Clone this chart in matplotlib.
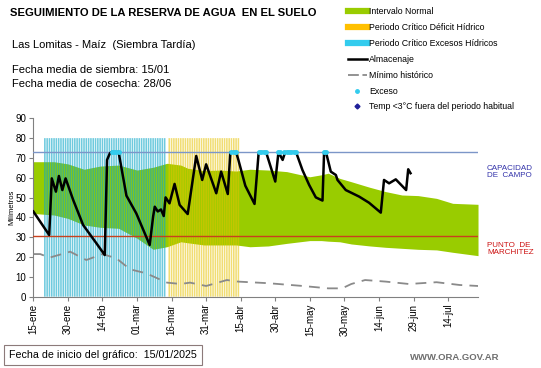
import numpy as np
import matplotlib.pyplot as plt
from matplotlib.lines import Line2D

plt.rcParams['font.family'] = ['Liberation Sans', 'DejaVu Sans']

# Days counted from 15/01/2025
tick_days = [0, 15, 30, 45, 60, 75, 90, 105, 120, 135, 150, 165, 180]
tick_labels = ["15-ene", "30-ene", "14-feb", "01-mar", "16-mar", "31-mar", "15-abr",
               "30-abr", "15-may", "30-may", "14-jun", "29-jun", "14-jul"]

# Critical periods (one bar per day)
excess_period_days = list(range(5, 58))
deficit_period_days = list(range(59, 90))

# Normal interval (green band)
band_days = [0, 9, 15, 22, 29, 37, 45, 52, 58, 64, 67, 74, 81, 88, 94, 102, 110,
             120, 125, 128, 133, 138, 146, 153, 160, 167, 175, 182, 193]
band_upper = [68.1, 68.1, 67.0, 64.3, 65.9, 66.4, 63.9, 65.3, 67.3, 66.4, 64.8, 63.6,
              63.9, 63.4, 64.3, 63.9, 63.1, 60.5, 61.5, 62.3, 59.7, 58.0, 55.2, 53.0,
              51.3, 51.0, 49.6, 47.1, 46.6]
band_lower = [42.0, 41.2, 39.5, 36.2, 35.0, 34.5, 29.5, 23.9, 25.2, 27.7, 27.2, 26.1,
              26.1, 26.1, 25.2, 25.6, 26.9, 28.3, 28.3, 28.0, 27.7, 26.6, 25.6, 24.9,
              24.4, 23.9, 23.6, 22.4, 20.7]

# Minimo historico
min_days = [0, 3, 7, 16, 23, 30, 36, 42, 49, 58, 64, 68, 75, 84, 89, 102, 117, 128,
            134, 138, 144, 153, 163, 175, 185, 193]
min_vals = [21.5, 21.5, 19.7, 22.7, 18.5, 21.5, 19.4, 13.8, 11.8, 7.1, 6.4, 7.1, 5.4,
            8.4, 7.6, 6.8, 5.4, 4.2, 4.2, 6.4, 8.4, 7.6, 6.4, 7.3, 5.9, 5.4]

# Almacenaje
alm_days = [0, 6.9, 8, 9.8, 11.1, 12.6, 14, 17.3, 21.6, 27.4, 31, 32, 33.2, 34, 37,
            40.4, 44.7, 50.5, 52, 52.7, 54, 55.4, 56.6, 57.4, 59.1, 61.3, 63.5, 67,
            70.7, 73.3, 75, 79.4, 81.5, 84.4, 85.5, 86, 88, 89, 92, 96, 97.8, 98, 101,
            105, 106.4, 108.2, 109.3, 114, 116.8, 119.7, 122.6, 125.5, 126.2, 127, 129.1,
            131.3, 132, 135.6, 141.4, 145.7, 150.8, 152.2, 154.4, 157.3, 161.8,
            162.7, 163.7]
alm_vals = [43, 31.1, 59.7, 53, 60.9, 53.8, 59.7, 48.8, 36.2, 26.9, 21, 69, 72.3, 73,
            73, 51, 42, 26.1, 40.5, 45.4, 43, 44, 40.7, 50.1, 47.1, 56.9, 46.3, 41.7,
            71, 58.9, 66.8, 52.2, 63.1, 51.8, 72.8, 73, 73, 69, 56, 46.8, 72.8, 73, 73,
            58.1, 73, 69, 73, 73, 63.9, 56.4, 50.1, 48.5, 73, 73, 63.1, 61.4, 58.9, 53.8,
            50.5, 47.4, 42.4, 58.9, 57.2, 59.2, 53.8, 64.3, 62.3]

# Exceso points
exc_days = [34, 35, 36, 37, 86, 87, 88, 98, 99, 100, 101, 106, 107, 109, 110, 111,
            112, 113, 114, 126, 127]
exc_vals = [73] * len(exc_days)

capacidad = 73.0
marchitez = 30.5

fig = plt.figure(figsize=(5.41, 3.68), dpi=100)
ax = fig.add_axes([0.0616, 0.1938, 0.822, 0.4847])

ax.fill_between(band_days, band_lower, band_upper, color="#99CC00", lw=0, zorder=1)
ax.bar(excess_period_days, [80] * len(excess_period_days), width=0.68,
       color="#0FA8C8", alpha=0.6, lw=0, zorder=2, snap=False)
ax.bar(deficit_period_days, [80] * len(deficit_period_days), width=0.68,
       color="#E6C200", alpha=0.55, lw=0, zorder=2, snap=False)
ax.axhline(capacidad, color="#7C96C8", lw=1.0, zorder=3)
ax.axhline(marchitez, color="#C8411E", lw=1.0, zorder=3)
ax.plot(min_days, min_vals, color="#8A8A8A", lw=1.3, dashes=(6, 4), zorder=4)
ax.plot(alm_days, alm_vals, color="black", lw=1.8, zorder=5)
ax.plot(exc_days, exc_vals, ls="none", marker="o", ms=2.5, color="#33CCEE", zorder=6)

ax.set_xlim(0, 193)
ax.set_ylim(0, 90)
ax.set_yticks(range(0, 91, 10))
ax.set_xticks(tick_days)
ax.set_xticklabels(tick_labels, rotation=90)
ax.tick_params(axis="both", labelsize=7, length=3, color="#808080", width=0.8, pad=2)
for s in ["top", "right"]:
    ax.spines[s].set_visible(False)
for s in ["left", "bottom"]:
    ax.spines[s].set_color("#808080")
ax.set_ylabel("Milímetros", fontsize=5.5)
ax.yaxis.set_label_coords(-0.041, 0.5)

# Header texts
fig.text(10 / 541, 1 - 13 / 368, "SEGUIMIENTO DE LA RESERVA DE AGUA  EN EL SUELO",
         fontsize=8.1, fontweight="bold", va="center")
fig.text(12 / 541, 1 - 45 / 368, "Las Lomitas - Maíz  (Siembra Tardía)",
         fontsize=8, va="center")
fig.text(12 / 541, 1 - 70 / 368, "Fecha media de siembra: 15/01", fontsize=8, va="center")
fig.text(12 / 541, 1 - 84 / 368, "Fecha media de cosecha: 28/06", fontsize=8, va="center")

# Legend
handles = [
    Line2D([], [], color="#99CC00", lw=4.5),
    Line2D([], [], color="#FFC000", lw=4.5),
    Line2D([], [], color="#33CCEE", lw=4.5),
    Line2D([], [], color="black", lw=1.8),
    Line2D([], [], color="#8A8A8A", lw=1.3, dashes=(6, 2)),
    Line2D([], [], ls="none", marker="o", ms=2.5, color="#33CCEE"),
    Line2D([], [], ls="none", marker="D", ms=2.5, color="#1F1F99"),
]
labels = ["Intervalo Normal", "Periodo Crítico Déficit Hídrico",
          "Periodo Crítico Excesos Hídricos", "Almacenaje", "Mínimo histórico",
          "Exceso", "Temp <3°C fuera del periodo habitual"]
fig.legend(handles, labels, loc="upper left", bbox_to_anchor=(344 / 541, 1 - 4 / 368),
           frameon=False, fontsize=6.3, handlelength=2.2, handletextpad=0.3,
           labelspacing=0.78, borderaxespad=0)

# Right labels
fig.text(487 / 541, 1 - 172 / 368, "CAPACIDAD\nDE  CAMPO", fontsize=5.8,
         color="#3333AA", va="center", linespacing=1.1)
fig.text(487 / 541, 1 - 249 / 368, "PUNTO  DE\nMARCHITEZ", fontsize=5.8,
         color="#CC1111", va="center", linespacing=1.1)

# Footer
fig.text(9 / 541, 1 - 355 / 368, "Fecha de inicio del gráfico:  15/01/2025",
         fontsize=7.7, va="center",
         bbox=dict(boxstyle="square,pad=0.45", fc="white", ec="#8C7A7A", lw=0.8))
fig.text(410 / 541, 1 - 358 / 368, "WWW.ORA.GOV.AR", fontsize=6.8, color="#6E6E6E",
         fontweight="bold", va="center")

fig.savefig("out.png", dpi=100)
